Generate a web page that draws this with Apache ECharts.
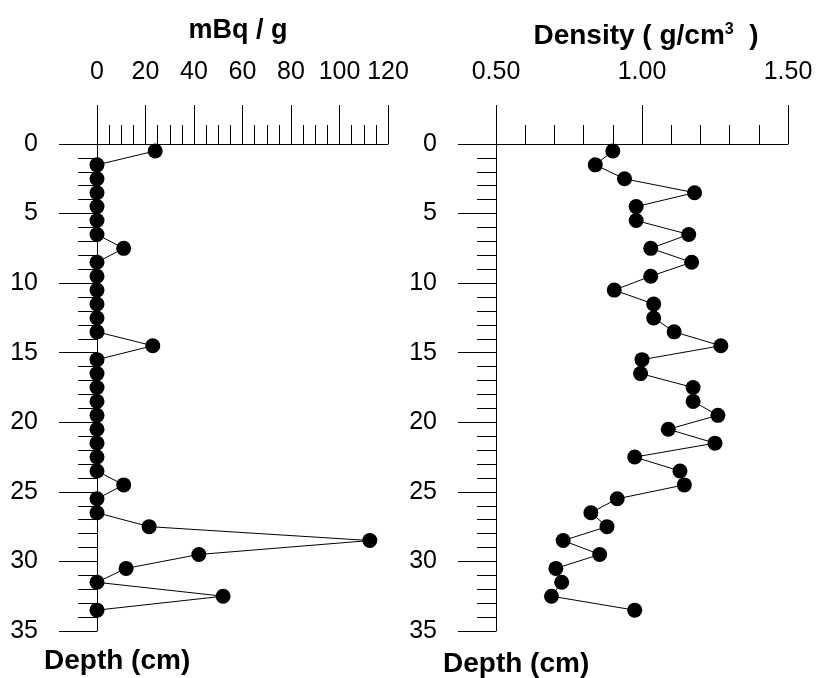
<!DOCTYPE html>
<html lang="en">
<head>
    <meta charset="UTF-8">
    <title>Core profile</title>
    <script src="https://cdn.jsdelivr.net/npm/echarts@6/dist/echarts.min.js"></script>
    <style>
        html, body { margin: 0; padding: 0; background: #fff; }
        #main { width: 816px; height: 678px; }
    </style>
</head>
<body>
<div id="main"></div>
<script>
    // depth of each slice midpoint (cm)
    const depth = [0.5, 1.5, 2.5, 3.5, 4.5, 5.5, 6.5, 7.5, 8.5, 9.5, 10.5, 11.5,
        12.5, 13.5, 14.5, 15.5, 16.5, 17.5, 18.5, 19.5, 20.5, 21.5, 22.5, 23.5,
        24.5, 25.5, 26.5, 27.5, 28.5, 29.5, 30.5, 31.5, 32.5, 33.5];
    // activity, mBq / g
    const activity = [24, 0, 0, 0, 0, 0, 0, 11, 0, 0, 0, 0,
        0, 0, 23, 0, 0, 0, 0, 0, 0, 0, 0, 0,
        11, 0, 0, 21.5, 112.5, 42, 12, 0, 52, 0];
    // dry bulk density, g/cm3
    const density = [0.90, 0.84, 0.94, 1.18, 0.98, 0.98, 1.16, 1.03, 1.17, 1.03, 0.905, 1.04,
        1.04, 1.11, 1.27, 1.00, 0.995, 1.175, 1.175, 1.26, 1.09, 1.25, 0.975, 1.13,
        1.145, 0.915, 0.825, 0.88, 0.73, 0.855, 0.705, 0.725, 0.69, 0.975];

    const depthTicks = [0, 5, 10, 15, 20, 25, 30, 35];

    const FONT = 'Liberation Sans, Arial, sans-serif';
    const black = '#000';

    let chart = echarts.init(document.getElementById('main'));

    function xAxisOpt(gridIndex, min, max, interval, fmt) {
        return {
            type: 'value', gridIndex: gridIndex, position: 'top',
            min: min, max: max, interval: interval,
            axisLine: { show: true, lineStyle: { color: black, width: 1 } },
            axisTick: { show: true, inside: false, length: 39, lineStyle: { color: black } },
            minorTick: { show: true, splitNumber: gridIndex === 0 ? 4 : 5, length: 19, lineStyle: { color: black } },
            splitLine: { show: false },
            axisLabel: { margin: 59, color: black, fontSize: 25, fontFamily: FONT, formatter: fmt }
        };
    }

    function yAxisOpt(gridIndex) {
        return {
            type: 'value', gridIndex: gridIndex, inverse: true,
            min: 0, max: 35, interval: 5,
            axisLine: { show: true, lineStyle: { color: black, width: 1 } },
            axisTick: { show: true, inside: false, length: 38, lineStyle: { color: black } },
            minorTick: { show: true, splitNumber: 5, length: 19, lineStyle: { color: black } },
            splitLine: { show: false },
            axisLabel: {
                margin: 59, color: black, fontSize: 25, fontFamily: FONT,
                formatter: v => depthTicks.includes(v) ? String(v) : ''
            }
        };
    }

    function lineSeries(idx, values) {
        return {
            type: 'line', xAxisIndex: idx, yAxisIndex: idx,
            data: values.map((v, i) => [v, depth[i]]),
            symbol: 'circle', symbolSize: 15,
            itemStyle: { color: black },
            lineStyle: { color: black, width: 1 },
            animation: false
        };
    }

    function label(x, y, text, size, align, rich) {
        return {
            type: 'text', x: x, y: y,
            style: {
                text: text, fill: black,
                font: 'bold ' + size + 'px ' + FONT,
                align: align, verticalAlign: 'middle',
                rich: rich
            }
        };
    }

    let option = {
        animation: false,
        backgroundColor: '#fff',
        grid: [
            { left: 97, top: 144, width: 291, height: 487 },
            { left: 496, top: 144, width: 292, height: 487 }
        ],
        xAxis: [
            xAxisOpt(0, 0, 120, 20, v => String(v)),
            xAxisOpt(1, 0.5, 1.5, 0.5, v => v.toFixed(2))
        ],
        yAxis: [yAxisOpt(0), yAxisOpt(1)],
        series: [lineSeries(0, activity), lineSeries(1, density)],
        graphic: [
            label(238, 31, 'mBq / g', 27, 'center'),
            label(646, 36, '{a|Density ( g/cm}{s|3}{a|  )}', 28, 'center', {
                a: { fontSize: 28, fontWeight: 'bold', fontFamily: FONT, color: black },
                s: { fontSize: 16, fontWeight: 'bold', fontFamily: FONT, color: black, verticalAlign: 'top' }
            }),
            label(44, 661, 'Depth (cm)', 28, 'left'),
            label(443, 664, 'Depth (cm)', 28, 'left')
        ]
    };

    chart.setOption(option);
</script>
</body>
</html>
